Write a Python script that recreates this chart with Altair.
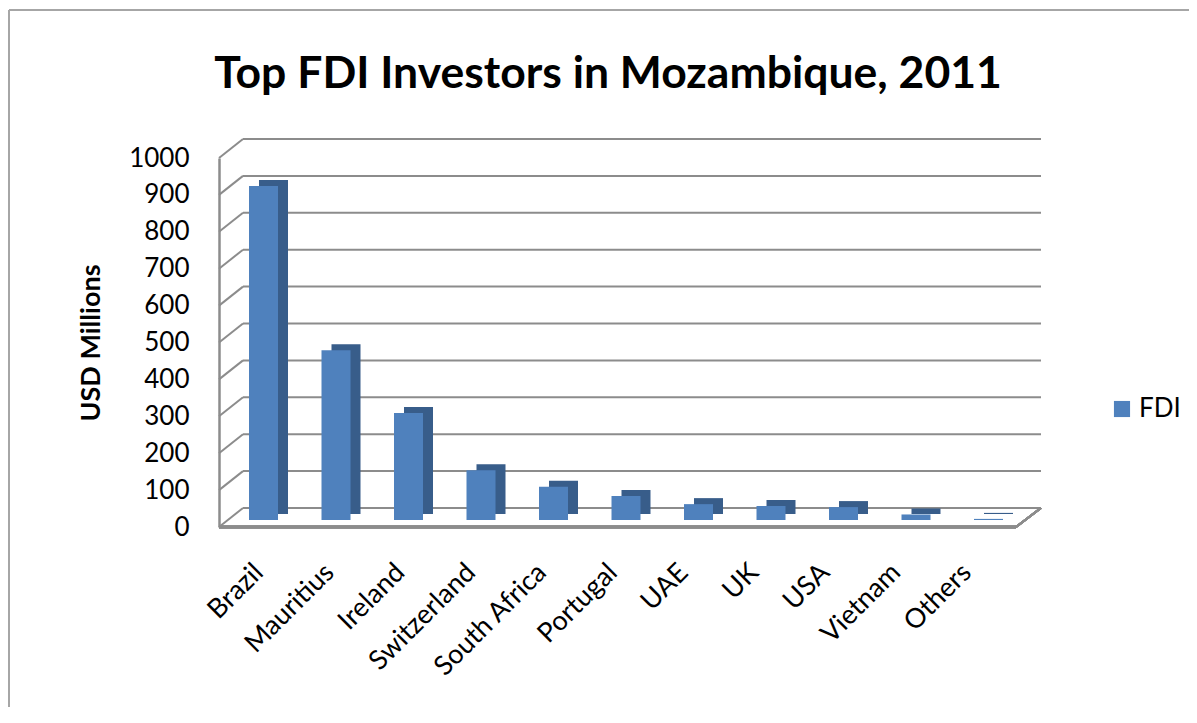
import altair as alt
import pandas as pd

countries = ["Brazil", "Mauritius", "Ireland", "Switzerland", "South Africa",
             "Portugal", "UAE", "UK", "USA", "Vietnam", "Others"]
fdi = [905, 460, 290, 135, 90, 65, 43, 38, 35, 15, 3]
ticks = [0, 100, 200, 300, 400, 500, 600, 700, 800, 900, 1000]
title_text = ["Top FDI Investors in Mozambique, 2011"]

df = pd.DataFrame({"country": countries, "fdi": fdi, "series": ["FDI"] * len(countries)})
grid_df = pd.DataFrame({"v": ticks})
title_df = pd.DataFrame({"t": title_text})

W, H = 822, 369
DEPTH_X, DEPTH_Y = 24, -19
FLOOR_W = 797
FONT = "Lato"
GRAY = "#8c8c8c"

bar_x = alt.X("country:N", sort=countries, title=None, axis=None,
              scale=alt.Scale(paddingInner=0.6, paddingOuter=0.469))
label_x = alt.X("country:N", sort=countries, title=None,
                scale=alt.Scale(type="point", padding=0.805),
                axis=alt.Axis(orient="bottom", labelAngle=-45, labelAlign="right",
                              labelBaseline="middle", labelPadding=41, labelOffset=-17.5,
                              labelFontSize=27, labelFont=FONT, labelColor="#000",
                              ticks=False, domain=False, labelOverlap=False))
yscale = alt.Scale(domain=[0, 1000])
y_axis = alt.Axis(values=ticks, format="d", title="USD Millions", titleFont=FONT,
                  titleFontSize=27, titleFontWeight="bold", titleColor="#000",
                  titlePadding=23, labelFont=FONT, labelFontSize=26,
                  labelColor="#000", labelPadding=30, ticks=False, grid=False,
                  labelOverlap=False, labelFlush=False,
                  domainColor=GRAY, domainWidth=2.5)
y_fdi = alt.Y("fdi:Q", scale=yscale, axis=y_axis, title="USD Millions")
y_v = alt.Y("v:Q", scale=yscale, axis=y_axis, title="USD Millions")

grid = alt.Chart(grid_df).mark_rule(color=GRAY, strokeWidth=2, yOffset=DEPTH_Y).encode(
    x=alt.value(DEPTH_X), x2=alt.value(W), y=y_v)

connectors = alt.Chart(grid_df).mark_rule(color=GRAY, strokeWidth=2, y2Offset=DEPTH_Y).encode(
    x=alt.value(0), x2=alt.value(DEPTH_X), y=y_v, y2="v:Q")

floor_front = alt.Chart(grid_df).mark_rule(color=GRAY, strokeWidth=2.5).encode(
    x=alt.value(0), x2=alt.value(FLOOR_W), y=alt.datum(0, axis=y_axis, title="USD Millions"))
floor_side = alt.Chart(grid_df).mark_rule(color=GRAY, strokeWidth=2, y2Offset=DEPTH_Y).encode(
    x=alt.value(FLOOR_W), x2=alt.value(W),
    y=alt.datum(0, axis=y_axis, title="USD Millions"), y2=alt.datum(0))

side = alt.Chart(df).mark_bar(color="#385d8a", xOffset=6, yOffset=-13).encode(
    x=bar_x, y=y_fdi)

front = alt.Chart(df).mark_bar(xOffset=-4, yOffset=-7).encode(
    x=bar_x, y=y_fdi,
    color=alt.Color("series:N", scale=alt.Scale(range=["#4f81bd"]),
                    legend=alt.Legend(title=None, orient="none", legendX=890, legendY=238,
                                      symbolType="square", symbolSize=260,
                                      symbolStrokeWidth=0, labelFont=FONT,
                                      labelFontSize=26, labelColor="#000")))

labels = alt.Chart(df).mark_point(opacity=0).encode(x=label_x, y=y_fdi)

bars = alt.layer(side, front)

title = alt.Chart(title_df).mark_text(font=FONT, fontSize=44.5, fontWeight="bold", color="#000",
                                      align="center", baseline="alphabetic").encode(
    text="t:N", x=alt.value(389), y=alt.value(-70))

frame_top = alt.Chart(grid_df).mark_rule(color="#a6a6a6", strokeWidth=2).encode(
    x=alt.value(-210), x2=alt.value(990), y=alt.value(-148), y2=alt.value(-148))
frame_left = alt.Chart(grid_df).mark_rule(color="#a6a6a6", strokeWidth=2).encode(
    x=alt.value(-210), x2=alt.value(-210), y=alt.value(-148), y2=alt.value(560))

chart = alt.layer(frame_top, frame_left, grid, connectors, floor_front, floor_side, bars,
                  labels, title).resolve_scale(x="independent").properties(
    width=W, height=H,
    autosize=alt.AutoSizeParams(type="none"),
    padding={"left": 211, "top": 150, "right": 148, "bottom": 180},
).configure_view(stroke=None)

chart.save("out.html", embed_options={"renderer": "svg", "actions": False})
